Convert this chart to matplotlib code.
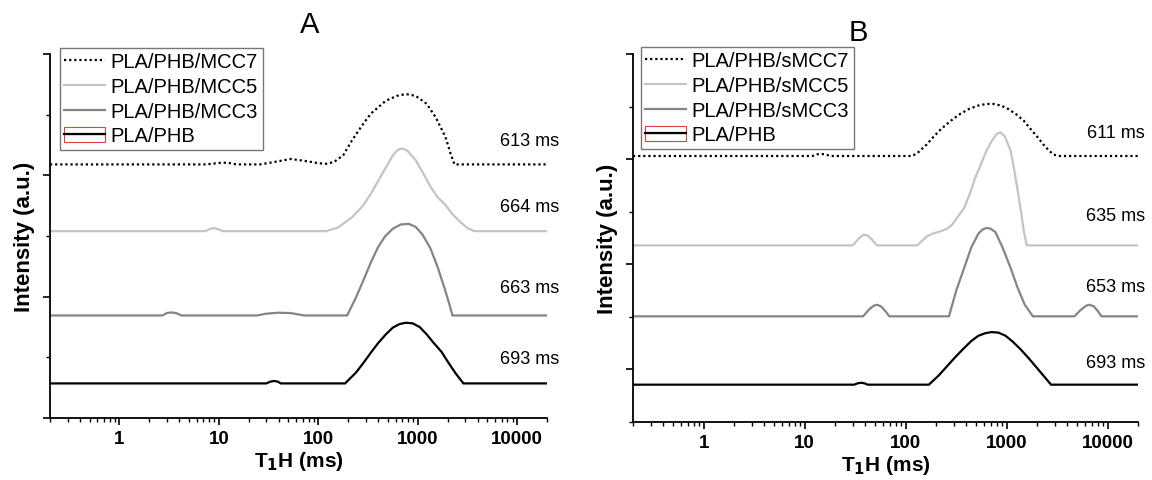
import matplotlib
matplotlib.use("Agg")
import matplotlib.pyplot as plt
from matplotlib.legend_handler import HandlerLine2D
from matplotlib.patches import Rectangle
from matplotlib.ticker import FixedLocator, LogLocator, NullFormatter

plt.rcParams['font.family'] = ['Liberation Sans', 'DejaVu Sans']

# ---------------- data (T1H in ms, intensity above baseline, a.u.) ----------------
# Panel A
A_labels = ["PLA/PHB/MCC7", "PLA/PHB/MCC5", "PLA/PHB/MCC3", "PLA/PHB"]
A_offsets = [4.18, 3.08, 1.69, 0.57]
A_times = ["613 ms", "664 ms", "663 ms", "693 ms"]
A_time_y = [4.57, 3.48, 2.15, 0.98]

A_mcc7_t = [0.2, 7.5, 9.5, 11, 13, 15, 26, 36, 53, 79, 100, 120, 144, 178, 219,
            275, 339, 479, 617, 764, 955, 1230, 1514, 1905, 2140, 2345, 20000]
A_mcc7_i = [0, 0, 0.02, 0.03, 0.02, 0, 0, 0.04, 0.09, 0.05, 0.02, 0.01, 0.04, 0.15, 0.40,
            0.64, 0.84, 1.05, 1.13, 1.16, 1.13, 1.00, 0.78, 0.45, 0.18, 0, 0]

A_mcc5_t = [0.2, 7.3, 8.2, 9, 10, 11, 120, 158, 219, 282, 339, 398, 479, 562, 620, 676,
            740, 794, 955, 1122, 1349, 1585, 1905, 2239, 2692, 3162, 3715, 20000]
A_mcc5_i = [0, 0, 0.04, 0.05, 0.03, 0, 0, 0.06, 0.23, 0.42, 0.62, 0.82, 1.05, 1.25, 1.33, 1.36,
            1.35, 1.32, 1.17, 0.97, 0.73, 0.56, 0.43, 0.28, 0.15, 0.05, 0, 0]

A_mcc3_t = [0.2, 2.7, 3.0, 3.3, 3.7, 4.2, 24, 30, 40, 52, 62, 72, 195, 240, 288, 339,
            398, 468, 562, 676, 813, 955, 1122, 1349, 1585, 1862, 2089, 2239, 20000]
A_mcc3_i = [0, 0, 0.04, 0.05, 0.04, 0, 0, 0.03, 0.045, 0.04, 0.02, 0, 0, 0.30, 0.60, 0.88,
            1.12, 1.30, 1.43, 1.50, 1.51, 1.46, 1.33, 1.10, 0.80, 0.45, 0.18, 0, 0]

A_pla_t = [0.2, 30, 33, 36, 39, 42, 186, 240, 288, 339, 398, 479, 562, 661, 759, 891,
           1047, 1230, 1445, 1738, 2042, 2399, 2884, 20000]
A_pla_i = [0, 0, 0.03, 0.04, 0.03, 0, 0, 0.18, 0.35, 0.51, 0.66, 0.81, 0.92, 0.98, 1.00, 0.99,
           0.93, 0.81, 0.67, 0.52, 0.34, 0.17, 0, 0]

# Panel B
B_labels = ["PLA/PHB/sMCC7", "PLA/PHB/sMCC5", "PLA/PHB/sMCC3", "PLA/PHB"]
B_offsets = [5.06, 3.36, 2.01, 0.71]
B_times = ["611 ms", "635 ms", "653 ms", "693 ms"]
B_time_y = [5.51, 3.92, 2.57, 1.14]

B_mcc7_t = [0.2, 12, 13, 14.5, 16, 18, 115, 130, 162, 190, 224, 280, 347, 430, 525, 630,
            741, 880, 1047, 1250, 1479, 1750, 2042, 2400, 2884, 3311, 20000]
B_mcc7_i = [0, 0, 0.03, 0.04, 0.03, 0, 0, 0.05, 0.22, 0.37, 0.51, 0.67, 0.80, 0.90, 0.96, 0.99,
            0.99, 0.96, 0.89, 0.79, 0.67, 0.50, 0.35, 0.18, 0.03, 0, 0]

B_mcc5_t = [0.2, 30, 34, 38, 42, 47, 52, 130, 145, 162, 190, 224, 260, 288, 330, 380, 430,
            490, 560, 631, 720, 800, 870, 955, 1096, 1200, 1290, 1400, 1480, 1585, 20000]
B_mcc5_i = [0, 0, 0.12, 0.20, 0.19, 0.10, 0, 0, 0.08, 0.17, 0.23, 0.27, 0.32, 0.39, 0.55, 0.71, 0.97,
            1.29, 1.55, 1.80, 2.00, 2.12, 2.15, 2.08, 1.80, 1.40, 1.03, 0.60, 0.27, 0, 0]

B_mcc3_t = [0.2, 38, 43, 48, 52, 57, 63, 69, 269, 316, 380, 447, 525, 575, 631, 692, 776,
            912, 1096, 1288, 1514, 1820, 4700, 5400, 6100, 6600, 7300, 8000, 8700, 20000]
B_mcc3_i = [0, 0, 0.12, 0.20, 0.22, 0.19, 0.10, 0, 0, 0.48, 0.92, 1.31, 1.57, 1.65, 1.68, 1.67, 1.60,
            1.31, 0.92, 0.54, 0.22, 0, 0, 0.12, 0.20, 0.22, 0.19, 0.10, 0, 0]

B_pla_t = [0.2, 31, 34, 37, 40, 42, 170, 214, 257, 309, 372, 447, 525, 617, 708, 832,
           977, 1148, 1380, 1660, 1995, 2344, 2754, 20000]
B_pla_i = [0, 0, 0.03, 0.035, 0.02, 0, 0, 0.18, 0.35, 0.52, 0.68, 0.83, 0.93, 0.98, 1.00, 0.99,
           0.93, 0.82, 0.67, 0.50, 0.32, 0.16, 0, 0]

xtick_vals = [1, 10, 100, 1000, 10000]
xtick_labels = ["1", "10", "100", "1000", "10000"]

# ---------------- styles ----------------
colors = ["black", "#c4c4c4", "#858585", "black"]
styles = [(0, (1, 1.3)), "-", "-", "-"]
LW = 1.6


class HandlerBoxed(HandlerLine2D):
    def create_artists(self, legend, orig_handle, xdescent, ydescent, width, height, fontsize, trans):
        arts = super().create_artists(legend, orig_handle, xdescent, ydescent, width, height, fontsize, trans)
        y0 = -ydescent + height / 2.0
        h = height * 0.55
        r1 = Rectangle((-xdescent, y0), width, h, fill=False,
                       edgecolor="#e04040", lw=0.8, transform=trans)
        r2 = Rectangle((-xdescent, y0 - h), width, h, fill=False,
                       edgecolor="#e04040", lw=0.8, transform=trans)
        return [r1, r2] + arts


fig = plt.figure(figsize=(11.52, 4.81), dpi=100)
W, H = 1152.0, 481.0


def make_panel(rect, series, labels, offsets, times, time_y, time_x, ymax, title, title_xy,
               leg_xy, major_y, minor_y):
    ax = fig.add_axes(rect)
    lines = []
    for (t, i), lab, off, c, ls in zip(series, labels, offsets, colors, styles):
        y = [off + v for v in i]
        ln, = ax.plot(t, y, color=c, ls=ls, lw=LW, label=lab, solid_joinstyle='round')
        lines.append(ln)
    for txt, ty in zip(times, time_y):
        ax.text(time_x, ty, txt, ha='center', va='center', fontsize=13, clip_on=False)
    ax.set_xscale('log')
    ax.set_xlim(0.2, 20000)
    ax.set_ylim(0, ymax)
    for s in ['top', 'right']:
        ax.spines[s].set_visible(False)
    for s in ['left', 'bottom']:
        ax.spines[s].set_linewidth(1.3)
    ax.xaxis.set_major_locator(FixedLocator(xtick_vals))
    ax.set_xticklabels(xtick_labels, fontweight='bold', fontsize=13.5)
    ax.xaxis.set_minor_locator(LogLocator(base=10, subs=[2, 3, 4, 5, 6, 7, 8, 9], numticks=20))
    ax.xaxis.set_minor_formatter(NullFormatter())
    ax.yaxis.set_major_locator(FixedLocator(major_y))
    ax.yaxis.set_minor_locator(FixedLocator(minor_y))
    ax.set_yticklabels([])
    ax.tick_params(axis='both', which='major', direction='out', length=5, width=1.2, pad=4)
    ax.tick_params(axis='both', which='minor', direction='out', length=3, width=1.0)
    ax.set_xlabel("T$_{\\mathbf{1}}$H (ms)", fontweight='bold', fontsize=15, labelpad=1)
    ax.set_ylabel("Intensity (a.u.)", fontweight='bold', fontsize=16, labelpad=2)
    fig.text(title_xy[0] / W, 1 - title_xy[1] / H, title, fontsize=21, ha='center', va='center')
    leg = ax.legend(handles=lines, loc='upper left',
                    bbox_to_anchor=(leg_xy[0] / W, 1 - leg_xy[1] / H),
                    bbox_transform=fig.transFigure, borderaxespad=0, fontsize=14.5,
                    frameon=True, fancybox=False, edgecolor="#555555",
                    handlelength=2.0, handletextpad=0.3, labelspacing=0.28,
                    borderpad=0.22, handler_map={lines[3]: HandlerBoxed()})
    leg.get_frame().set_linewidth(1.0)
    return ax


make_panel([50 / W, 1 - 419 / H, 497 / W, 364 / H],
           [(A_mcc7_t, A_mcc7_i), (A_mcc5_t, A_mcc5_i), (A_mcc3_t, A_mcc3_i), (A_pla_t, A_pla_i)],
           A_labels, A_offsets, A_times, A_time_y, 13500, 6, "A", (310, 25), (60, 49),
           [0, 2, 4, 6], [1, 3, 5])

make_panel([633 / W, 1 - 423 / H, 505 / W, 368 / H],
           [(B_mcc7_t, B_mcc7_i), (B_mcc5_t, B_mcc5_i), (B_mcc3_t, B_mcc3_i), (B_pla_t, B_pla_i)],
           B_labels, B_offsets, B_times, B_time_y, 12000, 7, "B", (858, 33), (641, 48),
           [1, 3, 5, 7], [0, 2, 4, 6])

fig.savefig("out.png", dpi=100)
